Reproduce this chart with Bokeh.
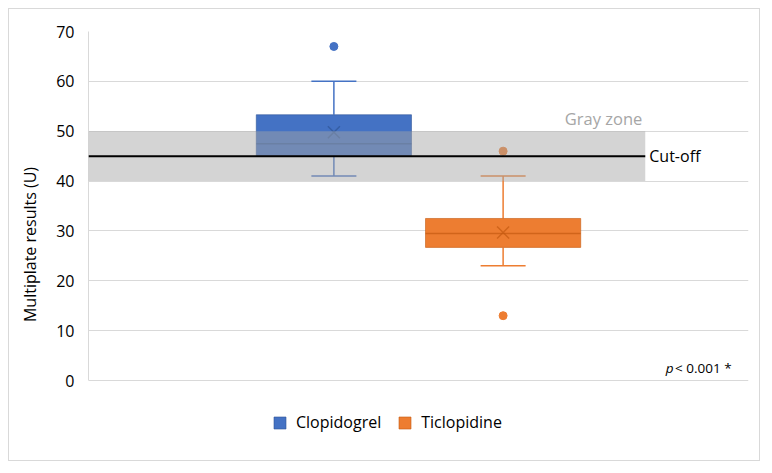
from bokeh.plotting import figure
from bokeh.models import (ColumnDataSource, BoxAnnotation, Label, Legend, LegendItem,
                          FactorRange, Range1d)
from bokeh.transform import dodge
from bokeh.embed import file_html
from bokeh.resources import INLINE

# ---- data ----
groups = ["Clopidogrel", "Ticlopidine"]
q1 = [45.1, 26.7]
median = [47.5, 29.5]
q3 = [53.3, 32.5]
lower_whisker = [41.0, 23.0]
upper_whisker = [60.0, 41.0]
means = [49.8, 29.7]
outlier_group = ["Clopidogrel", "Ticlopidine", "Ticlopidine"]
outlier_value = [67.0, 46.0, 13.0]
gray_zone = [40, 50]
cutoff = 45
y_ticks = [0, 10, 20, 30, 40, 50, 60, 70]

fills = ["#4472C4", "#ED7D31"]
darks = ["#2F5597", "#C55A11"]
FONT = "Open Sans"

src = ColumnDataSource(dict(g=groups, q1=q1, med=median, q3=q3, lo=lower_whisker,
                            hi=upper_whisker, mean=means, fill=fills, dark=darks))
out_src = ColumnDataSource(dict(g=outlier_group, v=outlier_value,
                                c=[fills[groups.index(g)] for g in outlier_group]))

# the frame reaches below 0 so that the legend can sit under the plot area
p = figure(width=752, height=453, output_backend="svg", toolbar_location=None,
           x_range=FactorRange(*groups, range_padding=0.95, range_padding_units="absolute"),
           y_range=Range1d(-15.44, 70),
           min_border_left=79, min_border_right=13, min_border_top=22, min_border_bottom=5,
           styles={"border": "1px solid #D9D9D9", "margin": "8px"})
p.outline_line_color = None
p.background_fill_color = "white"
p.border_fill_color = "white"
p.xaxis.visible = False
p.xgrid.visible = False
p.ygrid.grid_line_color = "#D9D9D9"
p.ygrid.grid_line_width = 1

ya = p.yaxis[0]
ya.ticker = y_ticks
ya.bounds = (0, 70)
ya.axis_label = "Multiplate results (U)"
ya.axis_label_text_font = FONT
ya.axis_label_text_font_size = "16px"
ya.axis_label_text_font_style = "normal"
ya.axis_label_text_color = "#000000"
ya.axis_label_standoff = 12
ya.major_label_text_font = FONT
ya.major_label_text_font_size = "16px"
ya.major_label_text_color = "#000000"
ya.major_label_standoff = 14
ya.major_tick_out = 0
ya.major_tick_in = 0
ya.major_tick_line_color = None
ya.minor_tick_line_color = None
ya.axis_line_color = "#D9D9D9"

BW = 0.917
CAP = 0.266

# whiskers
p.segment(x0="g", y0="q3", x1="g", y1="hi", source=src, line_color="fill", line_width=1.5)
p.segment(x0="g", y0="lo", x1="g", y1="q1", source=src, line_color="fill", line_width=1.5)
p.segment(x0=dodge("g", -CAP / 2, range=p.x_range), y0="hi",
          x1=dodge("g", CAP / 2, range=p.x_range), y1="hi", source=src, line_color="fill", line_width=1.5)
p.segment(x0=dodge("g", -CAP / 2, range=p.x_range), y0="lo",
          x1=dodge("g", CAP / 2, range=p.x_range), y1="lo", source=src, line_color="fill", line_width=1.5)
# boxes
boxes = p.vbar(x="g", width=BW, bottom="q1", top="q3", source=src, fill_color="fill",
               line_color="dark", line_width=1, line_alpha=0.6)
# medians
p.segment(x0=dodge("g", -BW / 2, range=p.x_range), y0="med",
          x1=dodge("g", BW / 2, range=p.x_range), y1="med", source=src,
          line_color="dark", line_width=1.5, line_alpha=0.7)
# means
p.scatter(x="g", y="mean", source=src, marker="x", size=17, line_color="dark",
          line_width=1.5, line_alpha=0.7)
# outliers
p.scatter(x="g", y="v", source=out_src, marker="circle", size=8, fill_color="c",
          line_color="c")

# gray zone + cut-off
BAND_RIGHT = 2.34
band = BoxAnnotation(bottom=gray_zone[0], top=gray_zone[1], right=BAND_RIGHT,
                     fill_color="#A6A6A6", fill_alpha=0.48, line_color=None)
p.add_layout(band)
cut = BoxAnnotation(bottom=cutoff, top=cutoff, right=BAND_RIGHT, fill_alpha=0,
                    line_color="#000000", line_alpha=1.0, line_width=2)
p.add_layout(cut)

p.add_layout(Label(x=BAND_RIGHT, y=gray_zone[1], text="Gray zone", text_align="right",
                   text_baseline="bottom", x_offset=-3, y_offset=1, text_font=FONT,
                   text_font_size="16.5px", text_color="#A6A6A6"))
p.add_layout(Label(x=BAND_RIGHT, y=cutoff, text="Cut-off", text_align="left",
                   text_baseline="middle", x_offset=4, text_font=FONT,
                   text_font_size="16px", text_color="#000000"))
P_X = 2.85
P_Y = 2.6
p.add_layout(Label(x=P_X, y=P_Y, text="< 0.001 *", text_align="right",
                   text_baseline="middle", text_font=FONT,
                   text_font_size="13.5px", text_color="#000000"))
p.add_layout(Label(x=P_X, y=P_Y, text="p", text_align="right", x_offset=-58,
                   text_baseline="middle", text_font=FONT, text_font_style="italic",
                   text_font_size="13.5px", text_color="#000000"))

# legend
leg = Legend(items=[LegendItem(label=groups[0], renderers=[boxes], index=0),
                    LegendItem(label=groups[1], renderers=[boxes], index=1)],
             orientation="horizontal", location=(184, 24), padding=0, spacing=16, margin=0,
             label_standoff=9, glyph_width=15, glyph_height=15, label_height=18,
             label_text_font=FONT, label_text_font_size="16px", label_text_color="#000000",
             border_line_alpha=0, background_fill_alpha=0)
p.add_layout(leg, "center")

open("out.html", "w").write(file_html(p, INLINE))
